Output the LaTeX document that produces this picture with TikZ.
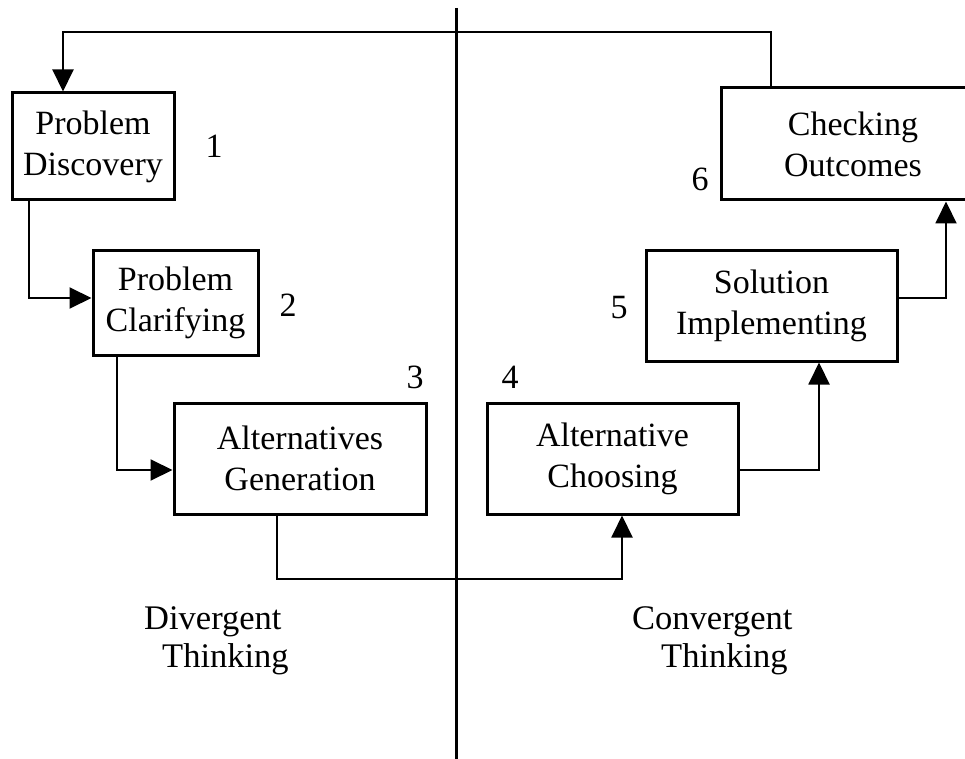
\documentclass[tikz,border=0pt]{standalone}
\usepackage{fontspec}
\setmainfont{Liberation Serif}
\usetikzlibrary{arrows.meta,calc}
\begin{document}
\begin{tikzpicture}[x=1pt,y=-1pt,
  stepbox/.style={draw,line width=3pt,rectangle,inner sep=0pt,align=center,
    font=\fontsize{34}{41}\selectfont},
  conn/.style={line width=2pt},
  arr/.style={conn,-{Triangle[length=22pt,width=21pt]}},
  numlab/.style={inner sep=0pt,font=\fontsize{34}{40}\selectfont},
  sidelab/.style={inner sep=0pt,align=left,font=\fontsize{34.5}{38}\selectfont,anchor=base west}]
\useasboundingbox (0,0) rectangle (965,759);
% divider
\coordinate (dtop) at (456,8);
\coordinate (dbot) at (456,759);
\draw[line width=3pt] (dtop) -- (dbot);
% boxes
\node[stepbox,minimum width=162pt,minimum height=107pt] (b1) at (93,146.5) {Problem\\Discovery};
\node[stepbox,minimum width=165pt,minimum height=105pt] (b2) at (175.5,302.5) {Problem\\Clarifying};
\node[stepbox,minimum width=252pt,minimum height=111pt] (b3) at (300,458.5) {Alternatives\\Generation};
\node[stepbox,minimum width=251pt,minimum height=111pt] (b4) at (612.5,458.5) {Alternative\\Choosing};
\node[stepbox,minimum width=251pt,minimum height=111pt] (b5) at (771.5,305.5) {Solution\\Implementing};
\node[stepbox,minimum width=264pt,minimum height=112pt] (b6) at (853,144) {Checking\\Outcomes};
% numbers
\node[numlab] (n1) at (214,146) {1};
\node[numlab] (n2) at (288,305) {2};
\node[numlab] (n3) at (415,377) {3};
\node[numlab] (n4) at (510,377) {4};
\node[numlab] (n5) at (619,308) {5};
\node[numlab] (n6) at (700,179) {6};
% side labels
\node[sidelab] (dv) at (144,667) {Divergent\\\hspace*{18pt}Thinking};
\node[sidelab] (cv) at (632,667) {Convergent\\\hspace*{29pt}Thinking};
% bend coordinates
\coordinate (t6) at (771,32);
\coordinate (t1) at (63,32);
\coordinate (c1) at (29,0);
\coordinate (c2) at (117,0);
\coordinate (c3) at (277,0);
\coordinate (c4) at (622,579);
\coordinate (c5) at (819,0);
\coordinate (c6) at (946,0);
% connectors
\draw[arr] (b6.north -| t6) -- (t6) -- (t1) -- (b1.north -| t1);
\draw[arr] (b1.south -| c1) |- ([yshift=4.5pt]b2.west);
\draw[arr] (b2.south -| c2) |- ([yshift=-11.5pt]b3.west);
\draw[arr] (b3.south -| c3) |- (c4) -- (b4.south -| c4);
\draw[arr] ([yshift=-11.5pt]b4.east) -| (b5.south -| c5);
\draw[arr] ([yshift=7.5pt]b5.east) -| (b6.south -| c6);
\end{tikzpicture}
\end{document}
